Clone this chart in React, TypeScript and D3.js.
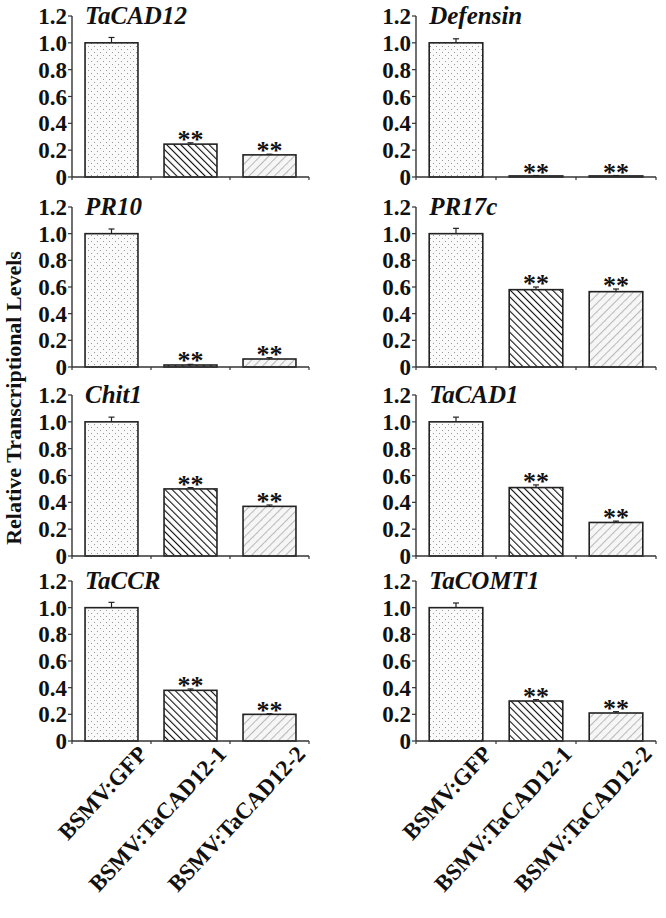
import React from "react";
import * as d3 from "d3";

const genes = ["TaCAD12", "Defensin", "PR10", "PR17c", "Chit1", "TaCAD1", "TaCCR", "TaCOMT1"];
const groups = ["BSMV:GFP", "BSMV:TaCAD12-1", "BSMV:TaCAD12-2"];
const gfpValues = [1.0, 1.0, 1.0, 1.0, 1.0, 1.0, 1.0, 1.0];
const kd1Values = [0.245, 0.008, 0.015, 0.58, 0.5, 0.51, 0.38, 0.3];
const kd2Values = [0.165, 0.008, 0.06, 0.565, 0.37, 0.25, 0.2, 0.21];
const gfpErrors = [0.04, 0.03, 0.035, 0.04, 0.035, 0.035, 0.04, 0.035];
const kd1Errors = [0.01, 0.003, 0.005, 0.02, 0.01, 0.02, 0.01, 0.01];
const kd2Errors = [0.005, 0.003, 0.01, 0.02, 0.01, 0.01, 0.005, 0.01];
const significance = ["", "**", "**"];
const yTicks = [0, 0.2, 0.4, 0.6, 0.8, 1.0, 1.2];
const yTitle = "Relative Transcriptional Levels";

const colRanges: [number, number][] = [[72, 309], [416, 656]];
const rowRanges: [number, number][] = [[16, 177], [207, 367], [395, 556], [581, 741]];
const FONT = "'Liberation Serif', 'Times New Roman', serif";
const fills = ["url(#pDots)", "url(#pHatch)", "url(#pCross)"];

function Panel({ gi }: { gi: number }) {
  const col = gi % 2;
  const row = Math.floor(gi / 2);
  const [x0, x1] = colRanges[col];
  const [yTop, yBot] = rowRanges[row];
  const x = d3.scaleBand<string>().domain(groups).range([x0, x1]).paddingInner(0.33).paddingOuter(0.165);
  const y = d3.scaleLinear().domain([0, 1.2]).range([yBot, yTop]);
  const vals = [gfpValues[gi], kd1Values[gi], kd2Values[gi]];
  const errs = [gfpErrors[gi], kd1Errors[gi], kd2Errors[gi]];
  const step = x.step();
  const boundaries = [x0, x0 + step, x0 + 2 * step, x1];
  const isBottom = row === rowRanges.length - 1;
  return (
    <g>
      {groups.map((g, i) => {
        const bx = x(g)!;
        const bw = x.bandwidth();
        const cx = bx + bw / 2;
        const top = y(vals[i]);
        const et = y(vals[i] + errs[i]);
        return (
          <g key={g}>
            <rect x={bx} y={top} width={bw} height={yBot - top} fill={fills[i]} stroke="#222" strokeWidth={1.6} />
            <line x1={cx} x2={cx} y1={top} y2={et} stroke="#222" strokeWidth={1.2} />
            <line x1={cx - 3} x2={cx + 3} y1={et} y2={et} stroke="#222" strokeWidth={1.2} />
            {significance[i] && (
              <text x={cx} y={et + 5} textAnchor="middle" fontFamily={FONT} fontWeight="bold" fontSize={26} fill="#111">
                {significance[i]}
              </text>
            )}
          </g>
        );
      })}
      <line x1={x0} x2={x0} y1={yTop} y2={yBot} stroke="#333" strokeWidth={1.4} />
      <line x1={x0} x2={x1} y1={yBot} y2={yBot} stroke="#333" strokeWidth={1.4} />
      {yTicks.map((t) => (
        <g key={t}>
          <line x1={x0 - 4} x2={x0} y1={y(t)} y2={y(t)} stroke="#333" strokeWidth={1.2} />
          <text x={x0 - 5} y={y(t)} dy="0.35em" textAnchor="end" fontFamily={FONT} fontWeight="bold" fontSize={23} fill="#111">
            {t === 0 ? "0" : t.toFixed(1)}
          </text>
        </g>
      ))}
      {boundaries.map((b, i) => (
        <line key={i} x1={b} x2={b} y1={yBot} y2={yBot + 3} stroke="#333" strokeWidth={1.2} />
      ))}
      <text x={x(groups[0])!} y={yTop + 8} fontFamily={FONT} fontWeight="bold" fontStyle="italic" fontSize={25} fill="#111">
        {genes[gi]}
      </text>
      {isBottom &&
        groups.map((g) => {
          const ax = x(g)! + x.bandwidth() / 2 + 37;
          const ay = yBot + 14;
          return (
            <text key={g} transform={`translate(${ax},${ay}) rotate(-47)`} textAnchor="end" fontFamily={FONT} fontWeight="bold" fontSize={23} fill="#111">
              {g}
            </text>
          );
        })}
    </g>
  );
}

export default function App() {
  return (
    <svg width={666} height={918} style={{ position: "absolute", left: 0, top: 0, background: "#fff" }}>
      <defs>
        <pattern id="pDots" patternUnits="userSpaceOnUse" width={6} height={6}>
          <rect width={6} height={6} fill="#fafafa" />
          <rect x={1} y={1} width={1} height={1} fill="#999" />
          <rect x={4} y={4} width={1} height={1} fill="#999" />
        </pattern>
        <pattern id="pHatch" patternUnits="userSpaceOnUse" width={5} height={5} patternTransform="rotate(-45)">
          <rect width={5} height={5} fill="#fff" />
          <line x1={0} y1={0} x2={0} y2={5} stroke="#111" strokeWidth={2.2} />
        </pattern>
        <pattern id="pCross" patternUnits="userSpaceOnUse" width={6} height={6} patternTransform="rotate(45)">
          <rect width={6} height={6} fill="#f6f6f6" />
          <line x1={0} y1={0} x2={0} y2={6} stroke="#888" strokeWidth={1.1} />
          <line x1={0} y1={3} x2={6} y2={3} stroke="#bbb" strokeWidth={0.8} strokeDasharray="1.5 4.5" />
        </pattern>
      </defs>
      {genes.map((_, gi) => (
        <Panel key={gi} gi={gi} />
      ))}
      <text transform="translate(21,398) rotate(-90)" textAnchor="middle" fontFamily={FONT} fontWeight="bold" fontSize={22} fill="#111">
        {yTitle}
      </text>
    </svg>
  );
}
